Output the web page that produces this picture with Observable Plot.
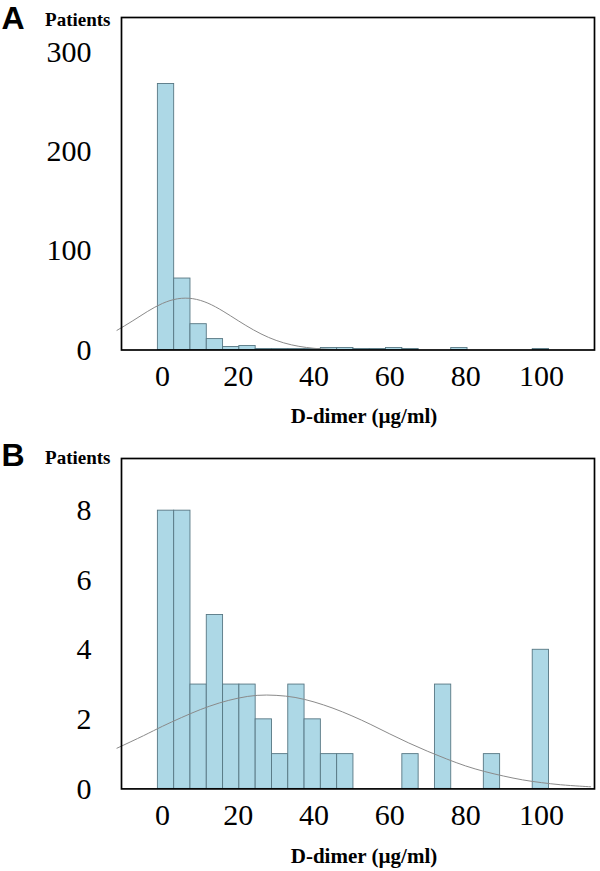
<!DOCTYPE html>
<html><head><meta charset="utf-8">
<script src="https://cdn.jsdelivr.net/npm/d3@7"></script>
<script src="https://cdn.jsdelivr.net/npm/@observablehq/plot@0.6"></script>
<style>body{margin:0;background:#fff} #chart svg{display:block}</style>
</head><body><div id="chart"></div>
<script>
// Histogram bin lower edges (µg/ml) and bin width
const binStarts = [-1.2, 3.1, 7.4, 11.7, 16.0, 20.3, 24.6, 28.9, 33.2, 37.5, 41.8, 46.1, 50.4, 54.7, 59.0, 63.3, 67.6, 71.9, 76.2, 80.5, 84.8, 89.1, 93.4, 97.7];
const binWidth = 4.3;
// Panel A counts (patients per bin)
const countsA = [268, 72, 26, 11, 3, 4, 1, 1, 1, 1, 2, 2, 1, 1, 2, 1, 0, 0, 2, 0, 0, 0, 0, 1];
// Panel B counts
const countsB = [8, 8, 3, 5, 3, 3, 2, 1, 3, 2, 1, 1, 0, 0, 0, 1, 0, 3, 0, 0, 1, 0, 0, 4];
// Fitted curve, panel A
const curveXA = [-12, -8, -4, 0, 4, 8, 12, 16, 20, 24, 28, 32, 36, 40, 44, 48];
const curveYA = [19.8, 29.0, 38.7, 46.9, 51.6, 51.7, 47.2, 39.1, 29.5, 20.3, 12.7, 7.2, 3.7, 1.7, 0.7, 0.3];
// Fitted curve, panel B
const curveXB = [-12, -5, 0, 5, 10, 15, 20, 25, 30, 35, 40, 45, 50, 55, 60, 65, 70, 75, 80, 85, 90, 95, 100, 105, 110, 113];
const curveYB = [1.17, 1.53, 1.80, 2.05, 2.28, 2.47, 2.61, 2.69, 2.69, 2.63, 2.50, 2.32, 2.10, 1.85, 1.58, 1.32, 1.08, 0.86, 0.66, 0.50, 0.37, 0.26, 0.18, 0.12, 0.08, 0.06];
const xTicks = [0, 20, 40, 60, 80, 100];
const yTicksA = [0, 100, 200, 300];
const yTicksB = [0, 2, 4, 6, 8];
const xDomain = [-10.8, 114];

function panel(o) {
  const bars = binStarts.map((s, i) => ({x1: s, x2: s + binWidth, y: o.counts[i]})).filter(d => d.y > 0);
  const curve = o.curveX.map((x, i) => ({x, y: o.curveY[i]}));
  return Plot.plot({
    width: 600, height: o.height, marginTop: o.marginTop, marginBottom: o.marginBottom,
    marginLeft: 121, marginRight: 6,
    style: {fontFamily: "'Liberation Serif', serif", background: "white", color: "black", overflow: "visible"},
    x: {domain: xDomain},
    y: {domain: o.yDomain},
    marks: [
      Plot.rectY(bars, {x1: "x1", x2: "x2", y: "y", fill: "#add8e6", stroke: "#577783", strokeWidth: 0.9}),
      Plot.line(curve, {x: "x", y: "y", stroke: "#8a8a8a", strokeWidth: 1, curve: "natural"}),
      Plot.frame({stroke: "black", strokeWidth: 1.7}),
      Plot.axisX({ticks: xTicks, tickSize: 0, tickPadding: 15, fontSize: 30, label: null}),
      Plot.axisY({ticks: o.yTicks, tickSize: 0, tickPadding: 30, fontSize: 30, label: null}),
      Plot.text([o.letter], {frameAnchor: "top-left", text: d => d, dx: -120, dy: o.letterDy, textAnchor: "start", lineAnchor: "bottom", fontFamily: "'Liberation Sans', sans-serif", fontWeight: "bold", fontSize: 32}),
      Plot.text(["Patients"], {frameAnchor: "top-left", text: d => d, dx: -11, dy: o.patDy, textAnchor: "end", lineAnchor: "bottom", fontWeight: "bold", fontSize: 19}),
      Plot.text(["D-dimer (µg/ml)"], {frameAnchor: "bottom", text: d => d, dx: 6, dy: o.titleDy, lineAnchor: "bottom", fontWeight: "bold", fontSize: 21})
    ]
  });
}

const chart = document.getElementById("chart");
chart.append(panel({counts: countsA, curveX: curveXA, curveY: curveYA, yDomain: [0, 335], yTicks: yTicksA,
  letter: "A", height: 435, marginTop: 17, marginBottom: 85.5, letterDy: 11, patDy: 8, titleDy: 72.5}));
chart.append(panel({counts: countsB, curveX: curveXB, curveY: curveYB, yDomain: [0, 9.5], yTicks: yTicksB,
  letter: "B", height: 436, marginTop: 23, marginBottom: 82.6, letterDy: 7, patDy: 5, titleDy: 73.6}));
</script>
</body></html>
